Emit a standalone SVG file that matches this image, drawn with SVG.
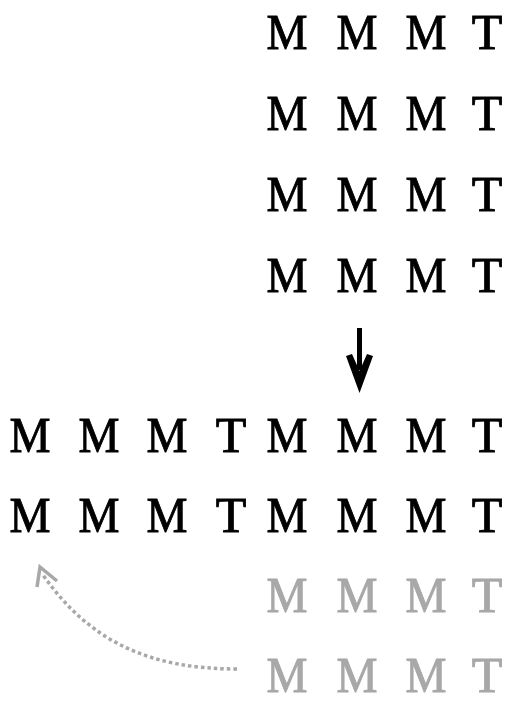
<svg xmlns="http://www.w3.org/2000/svg" width="516" height="708" viewBox="0 0 516 708">
<style>
text{font-family:"Liberation Serif","Times New Roman",serif;font-size:50px;fill:#000;stroke:#000;stroke-width:0.9;text-anchor:middle}
.g text{fill:#a8a8a8;stroke:#a8a8a8}
</style>
<rect width="516" height="708" fill="#fff"/>
<g id="row1"><text x="287" y="49" textLength="41" lengthAdjust="spacingAndGlyphs">M</text><text x="357" y="49" textLength="41" lengthAdjust="spacingAndGlyphs">M</text><text x="426" y="49" textLength="41" lengthAdjust="spacingAndGlyphs">M</text><text x="487" y="49">T</text></g>
<g id="row2"><text x="287" y="130" textLength="41" lengthAdjust="spacingAndGlyphs">M</text><text x="357" y="130" textLength="41" lengthAdjust="spacingAndGlyphs">M</text><text x="426" y="130" textLength="41" lengthAdjust="spacingAndGlyphs">M</text><text x="487" y="130">T</text></g>
<g id="row3"><text x="287" y="211" textLength="41" lengthAdjust="spacingAndGlyphs">M</text><text x="357" y="211" textLength="41" lengthAdjust="spacingAndGlyphs">M</text><text x="426" y="211" textLength="41" lengthAdjust="spacingAndGlyphs">M</text><text x="487" y="211">T</text></g>
<g id="row4"><text x="287" y="292" textLength="41" lengthAdjust="spacingAndGlyphs">M</text><text x="357" y="292" textLength="41" lengthAdjust="spacingAndGlyphs">M</text><text x="426" y="292" textLength="41" lengthAdjust="spacingAndGlyphs">M</text><text x="487" y="292">T</text></g>
<g id="row5"><text x="30" y="452" textLength="41" lengthAdjust="spacingAndGlyphs">M</text><text x="99" y="452" textLength="41" lengthAdjust="spacingAndGlyphs">M</text><text x="167" y="452" textLength="41" lengthAdjust="spacingAndGlyphs">M</text><text x="231" y="452">T</text><text x="287" y="452" textLength="41" lengthAdjust="spacingAndGlyphs">M</text><text x="357" y="452" textLength="41" lengthAdjust="spacingAndGlyphs">M</text><text x="426" y="452" textLength="41" lengthAdjust="spacingAndGlyphs">M</text><text x="487" y="452">T</text></g>
<g id="row6"><text x="30" y="532" textLength="41" lengthAdjust="spacingAndGlyphs">M</text><text x="99" y="532" textLength="41" lengthAdjust="spacingAndGlyphs">M</text><text x="167" y="532" textLength="41" lengthAdjust="spacingAndGlyphs">M</text><text x="231" y="532">T</text><text x="287" y="532" textLength="41" lengthAdjust="spacingAndGlyphs">M</text><text x="357" y="532" textLength="41" lengthAdjust="spacingAndGlyphs">M</text><text x="426" y="532" textLength="41" lengthAdjust="spacingAndGlyphs">M</text><text x="487" y="532">T</text></g>
<g id="row7" class="g"><text x="287" y="612" textLength="41" lengthAdjust="spacingAndGlyphs">M</text><text x="357" y="612" textLength="41" lengthAdjust="spacingAndGlyphs">M</text><text x="426" y="612" textLength="41" lengthAdjust="spacingAndGlyphs">M</text><text x="487" y="612">T</text></g>
<g id="row8" class="g"><text x="287" y="692" textLength="41" lengthAdjust="spacingAndGlyphs">M</text><text x="357" y="692" textLength="41" lengthAdjust="spacingAndGlyphs">M</text><text x="426" y="692" textLength="41" lengthAdjust="spacingAndGlyphs">M</text><text x="487" y="692">T</text></g>
<g id="connectors">
<line x1="359.5" y1="328" x2="359.5" y2="370" stroke="#000" stroke-width="5"/>
<path d="M346,356 L352,354 L359.5,371 L367,354 L373,356 L359.5,393 Z" fill="#000"/>
<path d="M237,669 C150,669 90,642 43,575" fill="none" stroke="#a8a8a8" stroke-width="3.5" stroke-dasharray="3.5 3"/>
<path d="M37,587 L40,567 L57,581" fill="none" stroke="#a8a8a8" stroke-width="3.5" stroke-linejoin="miter"/>
</g>
</svg>
